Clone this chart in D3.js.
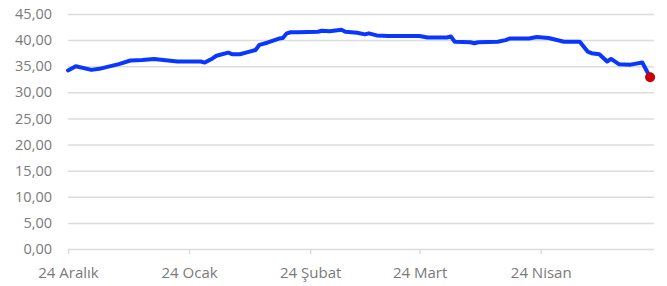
<!DOCTYPE html>
<html>
<head>
<meta charset="utf-8">
<script src="https://cdn.jsdelivr.net/npm/d3@7"></script>
<style>
  body { margin: 0; background: #fff; }
  #chart { width: 667px; height: 286px; }
</style>
</head>
<body>
<div id="chart"></div>
<script>
// values
var dates = ["2024-12-24","2024-12-26","2024-12-30","2025-01-01","2025-01-06","2025-01-09","2025-01-12","2025-01-15",
  "2025-01-21","2025-01-27","2025-01-28","2025-01-30","2025-01-31","2025-02-03","2025-02-04","2025-02-06","2025-02-08",
  "2025-02-10","2025-02-11","2025-02-13","2025-02-16","2025-02-17","2025-02-18","2025-02-19","2025-02-21","2025-02-26",
  "2025-02-27","2025-03-01","2025-03-04","2025-03-05","2025-03-08","2025-03-10","2025-03-11","2025-03-13","2025-03-16",
  "2025-03-24","2025-03-26","2025-03-31","2025-04-01","2025-04-02","2025-04-06","2025-04-07","2025-04-08","2025-04-13",
  "2025-04-15","2025-04-16","2025-04-21","2025-04-23","2025-04-26","2025-04-30","2025-05-04","2025-05-06","2025-05-07",
  "2025-05-09","2025-05-11","2025-05-12","2025-05-14","2025-05-17","2025-05-20","2025-05-22"];
var values = [34.2,35.0,34.3,34.5,35.4,36.1,36.2,36.4,
  35.9,35.9,35.7,36.5,37.0,37.6,37.3,37.3,37.7,
  38.1,39.1,39.5,40.3,40.4,41.3,41.5,41.5,41.6,
  41.8,41.7,42.0,41.6,41.4,41.1,41.3,40.9,40.8,
  40.8,40.5,40.5,40.7,39.7,39.6,39.4,39.6,39.7,
  40.0,40.3,40.3,40.6,40.4,39.7,39.7,37.8,37.5,
  37.3,35.9,36.4,35.4,35.3,35.7,32.9];
var tickDates = ["2024-12-24","2025-01-24","2025-02-24","2025-03-24","2025-04-24"];
var tickLabels = ["24 Aralık","24 Ocak","24 Şubat","24 Mart","24 Nisan"];
var yTicks = [0,5,10,15,20,25,30,35,40,45];

(function () {
    var parse = d3.timeParse("%Y-%m-%d");
    var tr = d3.formatLocale({decimal: ",", thousands: ".", grouping: [3], currency: ["", "₺"]});
    var fmt = tr.format(".2f");

    var data = dates.map(function (d, i) { return {date: parse(d), value: values[i]}; });

    var margin = {top: 14, right: 13, bottom: 37, left: 68},
        width = 667 - margin.left - margin.right,
        height = 286 - margin.top - margin.bottom;

    var x = d3.scaleTime()
        .domain([parse("2024-12-24"), parse("2025-05-23")])
        .range([0, width]);

    var y = d3.scaleLinear()
        .domain([0, 45])
        .range([height, 0]);

    var svg = d3.select("#chart").append("svg")
        .attr("width", width + margin.left + margin.right)
        .attr("height", height + margin.top + margin.bottom)
        .append("g")
        .attr("transform", "translate(" + margin.left + "," + margin.top + ")");

    //horizontal gridlines + y labels
    var yAxis = svg.append("g")
        .call(d3.axisLeft(y).tickValues(yTicks).tickSize(-width).tickFormat(fmt).tickPadding(16));
    yAxis.select(".domain").remove();
    yAxis.selectAll("line").attr("stroke", "#dcdcdc").attr("stroke-width", 1.5);
    yAxis.selectAll("text")
        .style("font-family", "Open Sans")
        .style("font-size", "14.5px")
        .style("fill", "#7a7a7a");

    //x axis with small ticks below the zero line
    var xAxis = svg.append("g")
        .attr("transform", "translate(0," + height + ")")
        .call(d3.axisBottom(x)
            .tickValues(tickDates.map(parse))
            .tickSize(5)
            .tickPadding(13)
            .tickFormat(function (d, i) { return tickLabels[i]; }));
    xAxis.select(".domain").remove();
    xAxis.selectAll("line").attr("stroke", "#dcdcdc").attr("stroke-width", 1.5);
    xAxis.selectAll("text")
        .style("font-family", "Open Sans")
        .style("font-size", "15px")
        .style("fill", "#7a7a7a");

    var line = d3.line()
        .x(function (d) { return x(d.date); })
        .y(function (d) { return y(d.value); });

    svg.append("path")
        .datum(data)
        .attr("fill", "none")
        .attr("stroke", "#0a37ff")
        .attr("stroke-width", 4)
        .attr("stroke-linejoin", "round")
        .attr("stroke-linecap", "round")
        .attr("d", line);

    var last = data[data.length - 1];
    svg.append("circle")
        .attr("cx", x(last.date))
        .attr("cy", y(last.value))
        .attr("r", 5)
        .attr("fill", "#c80000");
})();
</script>
</body>
</html>
